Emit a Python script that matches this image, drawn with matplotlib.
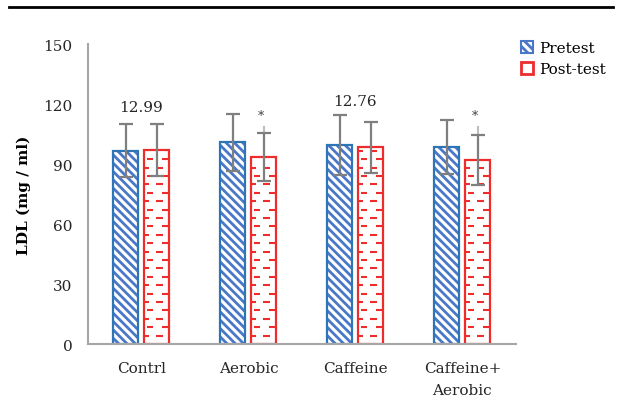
import numpy as np
import matplotlib.pyplot as plt
from matplotlib.lines import Line2D
from matplotlib.patches import Patch

groups = ['Contrl', 'Aerobic', 'Caffeine', 'Caffeine+\nAerobic']
pretest = [96.7, 100.8, 99.5, 98.4]
pretest_err = [13.2, 14.3, 14.8, 13.5]
posttest = [97.0, 93.4, 98.3, 92.0]
posttest_err = [12.8, 12.1, 12.7, 12.5]
# faint upward extension drawn above two of the post-test error bars
post_ext_top = [None, 108.5, None, 108.3]
notes = ['12.99', '*', '12.76', '*']
note_y = [115, 111, 118, 111]

plt.rcParams['font.family'] = ['DejaVu Serif']

blue = '#2E75B6'
hatch_blue = '#4A78C8'
red = '#EE2C2C'
grey = '#7F7F7F'

fig = plt.figure(figsize=(6.17, 4.06), dpi=100)
ax = fig.add_axes([0.1426, 0.150, 0.6935, 0.739])

x = np.arange(len(groups))
w = 0.234
off = 0.145

plt.rcParams['hatch.linewidth'] = 2.0
plt.rcParams['hatch.color'] = hatch_blue
ax.bar(x - off, pretest, w, color='white', edgecolor=hatch_blue,
       hatch='\\\\\\\\', linewidth=0, zorder=2)
ax.bar(x - off, pretest, w, color='none', edgecolor=blue, linewidth=1.6,
       zorder=2)
ax.bar(x + off, posttest, w, color='white', edgecolor=red,
       linewidth=1.6, zorder=2)

# dashed-row fill for the post-test bars
step = 4.2
for xi, v in zip(x, posttest):
    left = xi + off - w / 2
    y = step
    row = 0
    while y < v - 1:
        if row % 2 == 0:
            segs = [(0.0, 0.2), (0.47, 0.76)]
        else:
            segs = [(0.1, 0.36), (0.7, 1.0)]
        for a, b in segs:
            ax.plot([left + a * w, left + b * w], [y, y], color=red, lw=1.5,
                    solid_capstyle='butt', zorder=2)
        y += step
        row += 1

for xi, top in zip(x, post_ext_top):
    if top is not None:
        ax.plot([xi + off, xi + off], [posttest[int(xi)], top], color='#BDBDBD',
                lw=1.5, zorder=3)

ax.errorbar(x - off, pretest, yerr=pretest_err, fmt='none', ecolor=grey,
            elinewidth=1.6, capsize=4.8, capthick=1.6, zorder=4)
ax.errorbar(x + off, posttest, yerr=posttest_err, fmt='none', ecolor=grey,
            elinewidth=1.6, capsize=4.8, capthick=1.6, zorder=4)

for i, (t, yy) in enumerate(zip(notes, note_y)):
    if t == '*':
        ax.text(x[i] + off - 0.03, yy, t, ha='center', va='bottom', fontsize=9,
                color='#404040')
    else:
        ax.text(x[i], yy, t, ha='center', va='bottom', fontsize=11,
                color='#262626')

ax.set_xlim(-0.5, 3.5)
ax.set_ylim(0, 150)
ax.set_yticks(np.arange(0, 151, 30))
ax.set_xticks(x)
ax.set_xticklabels(groups, fontsize=11, color='#262626', linespacing=1.75)
ax.tick_params(axis='both', length=0, labelsize=11, colors='#262626')
ax.tick_params(axis='x', pad=12)
ax.tick_params(axis='y', pad=11)
for s in ['top', 'right']:
    ax.spines[s].set_visible(False)
for s in ['left', 'bottom']:
    ax.spines[s].set_color('#A6A6A6')
    ax.spines[s].set_linewidth(1.5)
ax.set_ylabel('LDL (mg / ml)', fontsize=11, fontweight='bold', labelpad=9)

handles = [Patch(facecolor='white', edgecolor=hatch_blue, hatch='\\\\\\\\',
                 linewidth=1.5),
           Patch(facecolor='white', edgecolor=red, linewidth=2.0)]
fig.legend(handles, ['Pretest', 'Post-test'], loc='upper left',
           bbox_to_anchor=(0.822, 0.93), frameon=False, fontsize=11,
           handlelength=0.8, handleheight=0.8, handletextpad=0.4,
           labelspacing=0.45)

fig.add_artist(Line2D([0.015, 0.993], [0.980, 0.980], color='black', lw=2))

fig.savefig('out.png', dpi=100)
